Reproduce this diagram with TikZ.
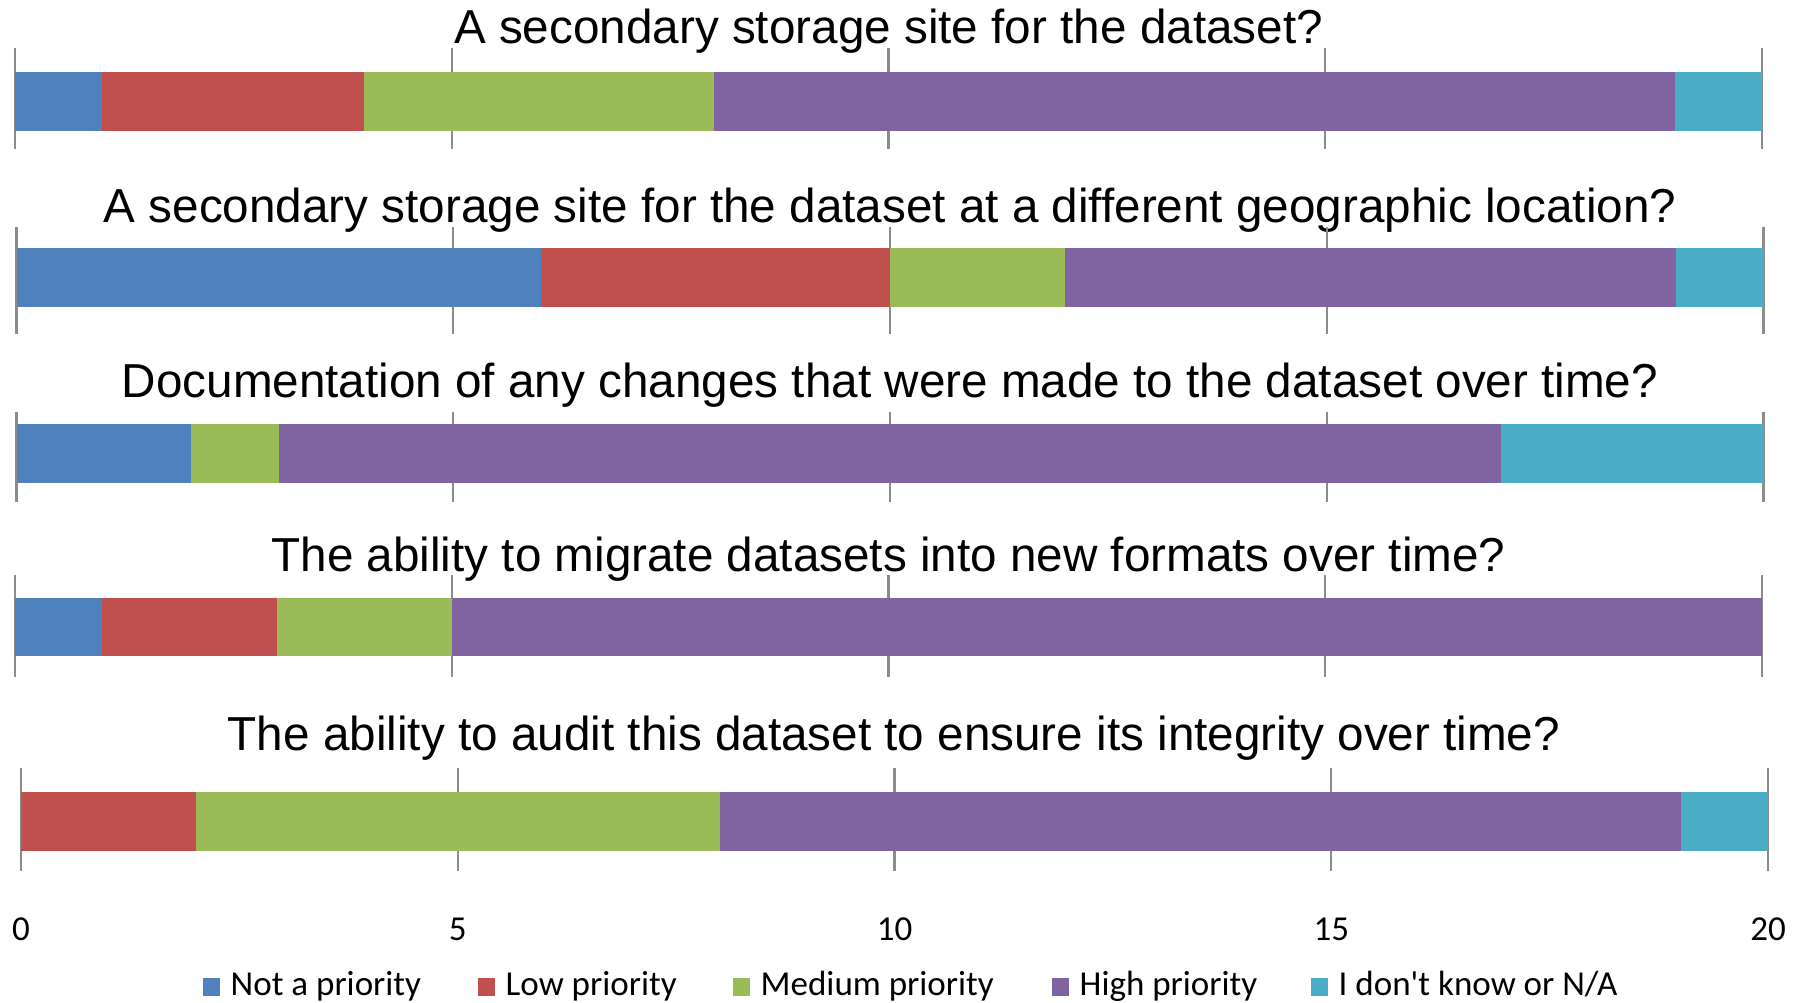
\documentclass[tikz,border=0pt]{standalone}
\usepackage{fontspec}
\setmainfont{Liberation Sans}
\newfontfamily\calfont{Carlito}
\usepackage{tikz}

\definecolor{cnot}{HTML}{4F81BD}
\definecolor{clow}{HTML}{C0504D}
\definecolor{cmed}{HTML}{9BBB59}
\definecolor{chigh}{HTML}{8064A2}
\definecolor{cna}{HTML}{4BACC6}
\definecolor{tickgray}{HTML}{8C8C8C}

\begin{document}
\begin{tikzpicture}[x=0.01cm,y=-0.01cm]
  \tikzset{question/.style = {font=\fontsize{13.55}{16}\selectfont, inner sep=0pt, anchor=base}}
  \tikzset{tickline/.style = {draw=tickgray, line width=0.7pt}}
  \tikzset{axislabel/.style = {font=\calfont\fontsize{9.96}{12}\selectfont, inner sep=0pt, anchor=base}}
  \tikzset{legendtext/.style = {font=\calfont\fontsize{9.96}{12}\selectfont, inner sep=0pt, anchor=base west}}

  \useasboundingbox (0,0) rectangle (1802,1003);

  \node[question] (Q1) at (888.5,43) {A secondary storage site for the dataset?};
  \foreach \v in {0,5,...,20}
    \draw[tickline] (15+87.35*\v,48) -- (15+87.35*\v,149);
  \foreach \from/\to/\col in {0/1/cnot, 1/4/clow, 4/8/cmed, 8/19/chigh, 19/20/cna}
    \fill[\col] (15+87.35*\from,72) rectangle (15+87.35*\to,131);

  \node[question] (Q2) at (890,222) {A secondary storage site for the dataset at a different geographic location?};
  \foreach \v in {0,5,...,20}
    \draw[tickline] (16.5+87.35*\v,227) -- (16.5+87.35*\v,334);
  \foreach \from/\to/\col in {0/6/cnot, 6/10/clow, 10/12/cmed, 12/19/chigh, 19/20/cna}
    \fill[\col] (16.5+87.35*\from,248) rectangle (16.5+87.35*\to,307);

  \node[question] (Q3) at (890,397) {Documentation of any changes that were made to the dataset over time?};
  \foreach \v in {0,5,...,20}
    \draw[tickline] (16.5+87.35*\v,412) -- (16.5+87.35*\v,502);
  \foreach \from/\to/\col in {0/2/cnot, 2/3/cmed, 3/17/chigh, 17/20/cna}
    \fill[\col] (16.5+87.35*\from,424) rectangle (16.5+87.35*\to,483);

  \node[question] (Q4) at (888.5,571) {The ability to migrate datasets into new formats over time?};
  \foreach \v in {0,5,...,20}
    \draw[tickline] (15+87.35*\v,575) -- (15+87.35*\v,677);
  \foreach \from/\to/\col in {0/1/cnot, 1/3/clow, 3/5/cmed, 5/20/chigh}
    \fill[\col] (15+87.35*\from,598) rectangle (15+87.35*\to,656);

  \node[question] (Q5) at (894,750) {The ability to audit this dataset to ensure its integrity over time?};
  \foreach \v in {0,5,...,20}
    \draw[tickline] (21+87.35*\v,768) -- (21+87.35*\v,871);
  \foreach \from/\to/\col in {0/2/clow, 2/8/cmed, 8/19/chigh, 19/20/cna}
    \fill[\col] (21+87.35*\from,792) rectangle (21+87.35*\to,851);

  \foreach \v in {0,5,...,20}
    \node[axislabel] (ax\v) at (21+87.35*\v,940) {\v};

  \foreach \x/\col/\txt/\nm in {203/cnot/Not a priority/not, 478/clow/Low priority/low, 733/cmed/Medium priority/med, 1052/chigh/High priority/high, 1311/cna/{I don't know or N/A}/na}
    {
    \fill[\col] (\x,978) rectangle (\x+17,996);
    \node[legendtext] (leg\nm) at (\x+27,995) {\txt};
    }
\end{tikzpicture}
\end{document}
